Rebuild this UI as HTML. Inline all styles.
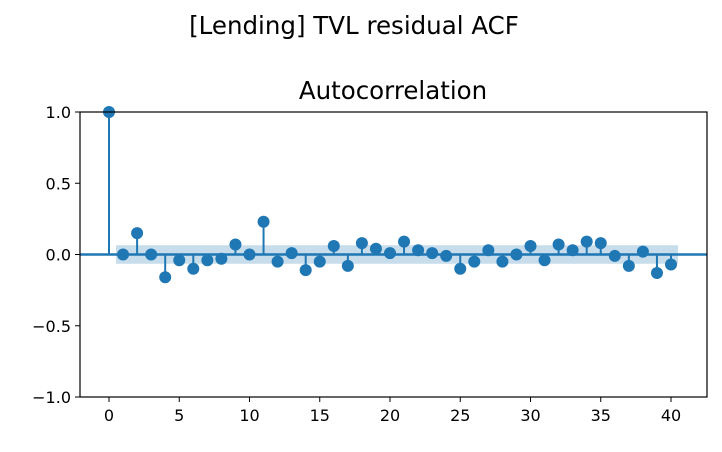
<!DOCTYPE html>
<html><head><meta charset="utf-8"><style>
body{margin:0;background:#fff;}
svg text{font-family:"DejaVu Sans","Liberation Sans",sans-serif;fill:#000;}
</style></head><body>
<svg id="chart" width="722" height="447" viewBox="0 0 722 447" xmlns="http://www.w3.org/2000/svg">
<rect width="722" height="447" fill="#fff"/>
<text x="354" y="34" font-size="24.5" text-anchor="middle">[Lending] TVL residual ACF</text>
<text x="393" y="99" font-size="24.5" text-anchor="middle">Autocorrelation</text>
<g id="plot"></g>
<rect x="80" y="112" width="627" height="285" fill="none" stroke="#000" stroke-width="1.2"/>
</svg>
<script>
const lags=[0,1,2,3,4,5,6,7,8,9,10,11,12,13,14,15,16,17,18,19,20,21,22,23,24,25,26,27,28,29,30,31,32,33,34,35,36,37,38,39,40];
const acfValues=[1,0.0,0.15,0.0,-0.16,-0.04,-0.10,-0.04,-0.03,0.07,0.0,0.23,-0.05,0.01,-0.11,-0.05,0.06,-0.08,0.08,0.04,0.01,0.09,0.03,0.01,-0.01,-0.10,-0.05,0.03,-0.05,0.0,0.06,-0.04,0.07,0.03,0.09,0.08,-0.01,-0.08,0.02,-0.13,-0.07];
const confBand=0.065;
const xTicks=[0,5,10,15,20,25,30,35,40];
const yTicks=[1,0.5,0,-0.5,-1];
const yTickLabels=["1.0","0.5","0.0","\u22120.5","\u22121.0"];
const X=v=>109+v*14.05;
const Y=v=>254.5-v*142.5;
const NS="http://www.w3.org/2000/svg";
const g=document.getElementById('plot');
function mk(t,a){const e=document.createElementNS(NS,t);for(const k in a)e.setAttribute(k,a[k]);g.appendChild(e);return e;}
let band=mk('rect',{x:X(0.5),y:Y(confBand),width:X(40.5)-X(0.5),height:Y(-confBand)-Y(confBand),fill:'#1f77b4','fill-opacity':0.25});


let zl=mk('line',{x1:80,x2:707,y1:Y(0),y2:Y(0),stroke:'#1f77b4','stroke-width':2.5});


lags.forEach((l,i)=>{
  const s=mk('line',{x1:X(l),x2:X(l),y1:Y(0),y2:Y(acfValues[i]),stroke:'#1f77b4','stroke-width':2});
  
  
  const c=mk('circle',{cx:X(l),cy:Y(acfValues[i]),r:6,fill:'#1f77b4'});
  
  
});
xTicks.forEach(t=>{
  const tk=mk('line',{x1:X(t),x2:X(t),y1:397,y2:402,stroke:'#000','stroke-width':1});
  
  
  const tx=mk('text',{x:X(t),y:421,'font-size':16,'text-anchor':'middle'});
  tx.textContent=t;
  
  
});
yTicks.forEach((t,i)=>{
  const tk=mk('line',{x1:75,x2:80,y1:Y(t),y2:Y(t),stroke:'#000','stroke-width':1});
  
  
  const tx=mk('text',{x:71,y:Y(t)+6,'font-size':16,'text-anchor':'end'});
  tx.textContent=yTickLabels[i];
  
  
});
</script>
</body></html>
